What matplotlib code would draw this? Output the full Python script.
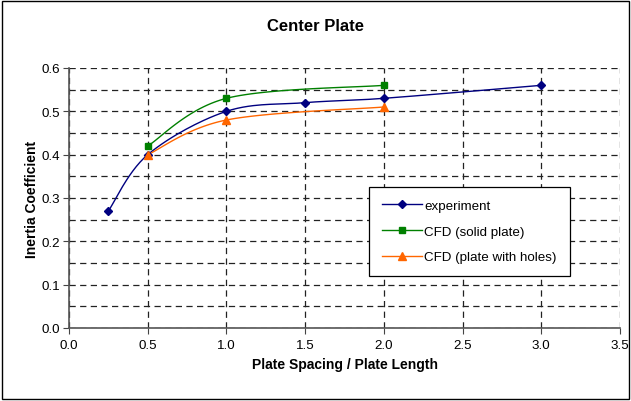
import numpy as np
import matplotlib
matplotlib.use("Agg")
import matplotlib.pyplot as plt
from matplotlib.patches import Rectangle

plt.rcParams['font.family'] = ['Liberation Sans', 'DejaVu Sans']

exp_x = [0.25, 0.5, 1.0, 1.5, 2.0, 3.0]
exp_y = [0.27, 0.40, 0.50, 0.52, 0.53, 0.56]
solid_x = [0.5, 1.0, 2.0]
solid_y = [0.42, 0.53, 0.56]
holes_x = [0.5, 1.0, 2.0]
holes_y = [0.40, 0.48, 0.51]

x_ticks = [0.0, 0.5, 1.0, 1.5, 2.0, 2.5, 3.0, 3.5]
y_ticks = [0.0, 0.1, 0.2, 0.3, 0.4, 0.5, 0.6]


def smooth(xs, ys, n=30):
    """Catmull-Rom style curve through the points (Excel 'smoothed line')."""
    p = np.column_stack([xs, ys]).astype(float)
    pts = np.vstack([p[0], p, p[-1]])
    out = []
    for i in range(1, len(pts) - 2):
        p0, p1, p2, p3 = pts[i - 1], pts[i], pts[i + 1], pts[i + 2]
        c1 = p1 + (p2 - p0) / 6.0
        c2 = p2 - (p3 - p1) / 6.0
        t = np.linspace(0, 1, n)[:, None]
        seg = ((1 - t) ** 3) * p1 + 3 * ((1 - t) ** 2) * t * c1 + 3 * (1 - t) * t ** 2 * c2 + t ** 3 * p2
        out.append(seg if i == 1 else seg[1:])
    s = np.vstack(out)
    return s[:, 0], s[:, 1]


fig = plt.figure(figsize=(6.31, 4.02), dpi=100)
fig.patches.append(Rectangle((0.003, 0.004), 0.994, 0.992, transform=fig.transFigure,
                             fill=False, edgecolor='black', linewidth=1.0))
ax = fig.add_axes([0.1094, 0.1816, 0.8732, 0.6468])

series = [
    (exp_x, exp_y, '#000080', 'D', 4.5, 'experiment'),
    (solid_x, solid_y, '#008000', 's', 5, 'CFD (solid plate)'),
    (holes_x, holes_y, '#FF6600', '^', 6, 'CFD (plate with holes)'),
]
for xs, ys, c, m, ms, lab in series:
    sx, sy = smooth(xs, ys)
    ax.plot(sx, sy, color=c, linewidth=1.0, zorder=3)
    ax.plot(xs, ys, linestyle='none', marker=m, markersize=ms, color=c, zorder=4)
    ax.plot([], [], color=c, marker=m, markersize=ms - 0.5, linewidth=1.0, label=lab)

ax.set_xlim(0, 3.5)
ax.set_ylim(0, 0.6)
ax.set_xticks(x_ticks)
ax.set_xticklabels([f"{v:.1f}" for v in x_ticks])
ax.set_yticks(y_ticks)
ax.set_yticklabels([f"{v:.1f}" for v in y_ticks])
ax.set_yticks(np.arange(0.05, 0.6, 0.1), minor=True)

ax.grid(True, which='major', axis='x', color='#222222', linestyle=(0, (5, 3.5)), linewidth=0.9)
ax.grid(True, which='both', axis='y', color='#222222', linestyle=(0, (5, 3.5)), linewidth=0.9)
ax.tick_params(axis='both', which='major', direction='out', length=4, labelsize=9.6,
               color='#444444', pad=4)
ax.tick_params(axis='y', which='major', pad=2.5)
ax.tick_params(axis='y', which='minor', length=0)

for side in ['top', 'right']:
    ax.spines[side].set_visible(False)
for side in ['left', 'bottom']:
    ax.spines[side].set_color('#555555')
    ax.spines[side].set_linewidth(1.2)

ax.set_xlabel('Plate Spacing / Plate Length', fontsize=10, fontweight='bold', labelpad=4)
ax.set_ylabel('Inertia Coefficient', fontsize=10, fontweight='bold', labelpad=2)
fig.text(0.5, 0.935, 'Center Plate', ha='center', va='center', fontsize=12, fontweight='bold')

leg = ax.legend(loc='upper left', bbox_to_anchor=(0.5445, 0.542), fontsize=9.6,
                frameon=True, fancybox=False, edgecolor='black', framealpha=1,
                handlelength=3.0, labelspacing=1.0, borderpad=0.95, handletextpad=0.2,
                borderaxespad=0)
leg.get_frame().set_linewidth(0.9)

fig.savefig('out.png', dpi=100)
